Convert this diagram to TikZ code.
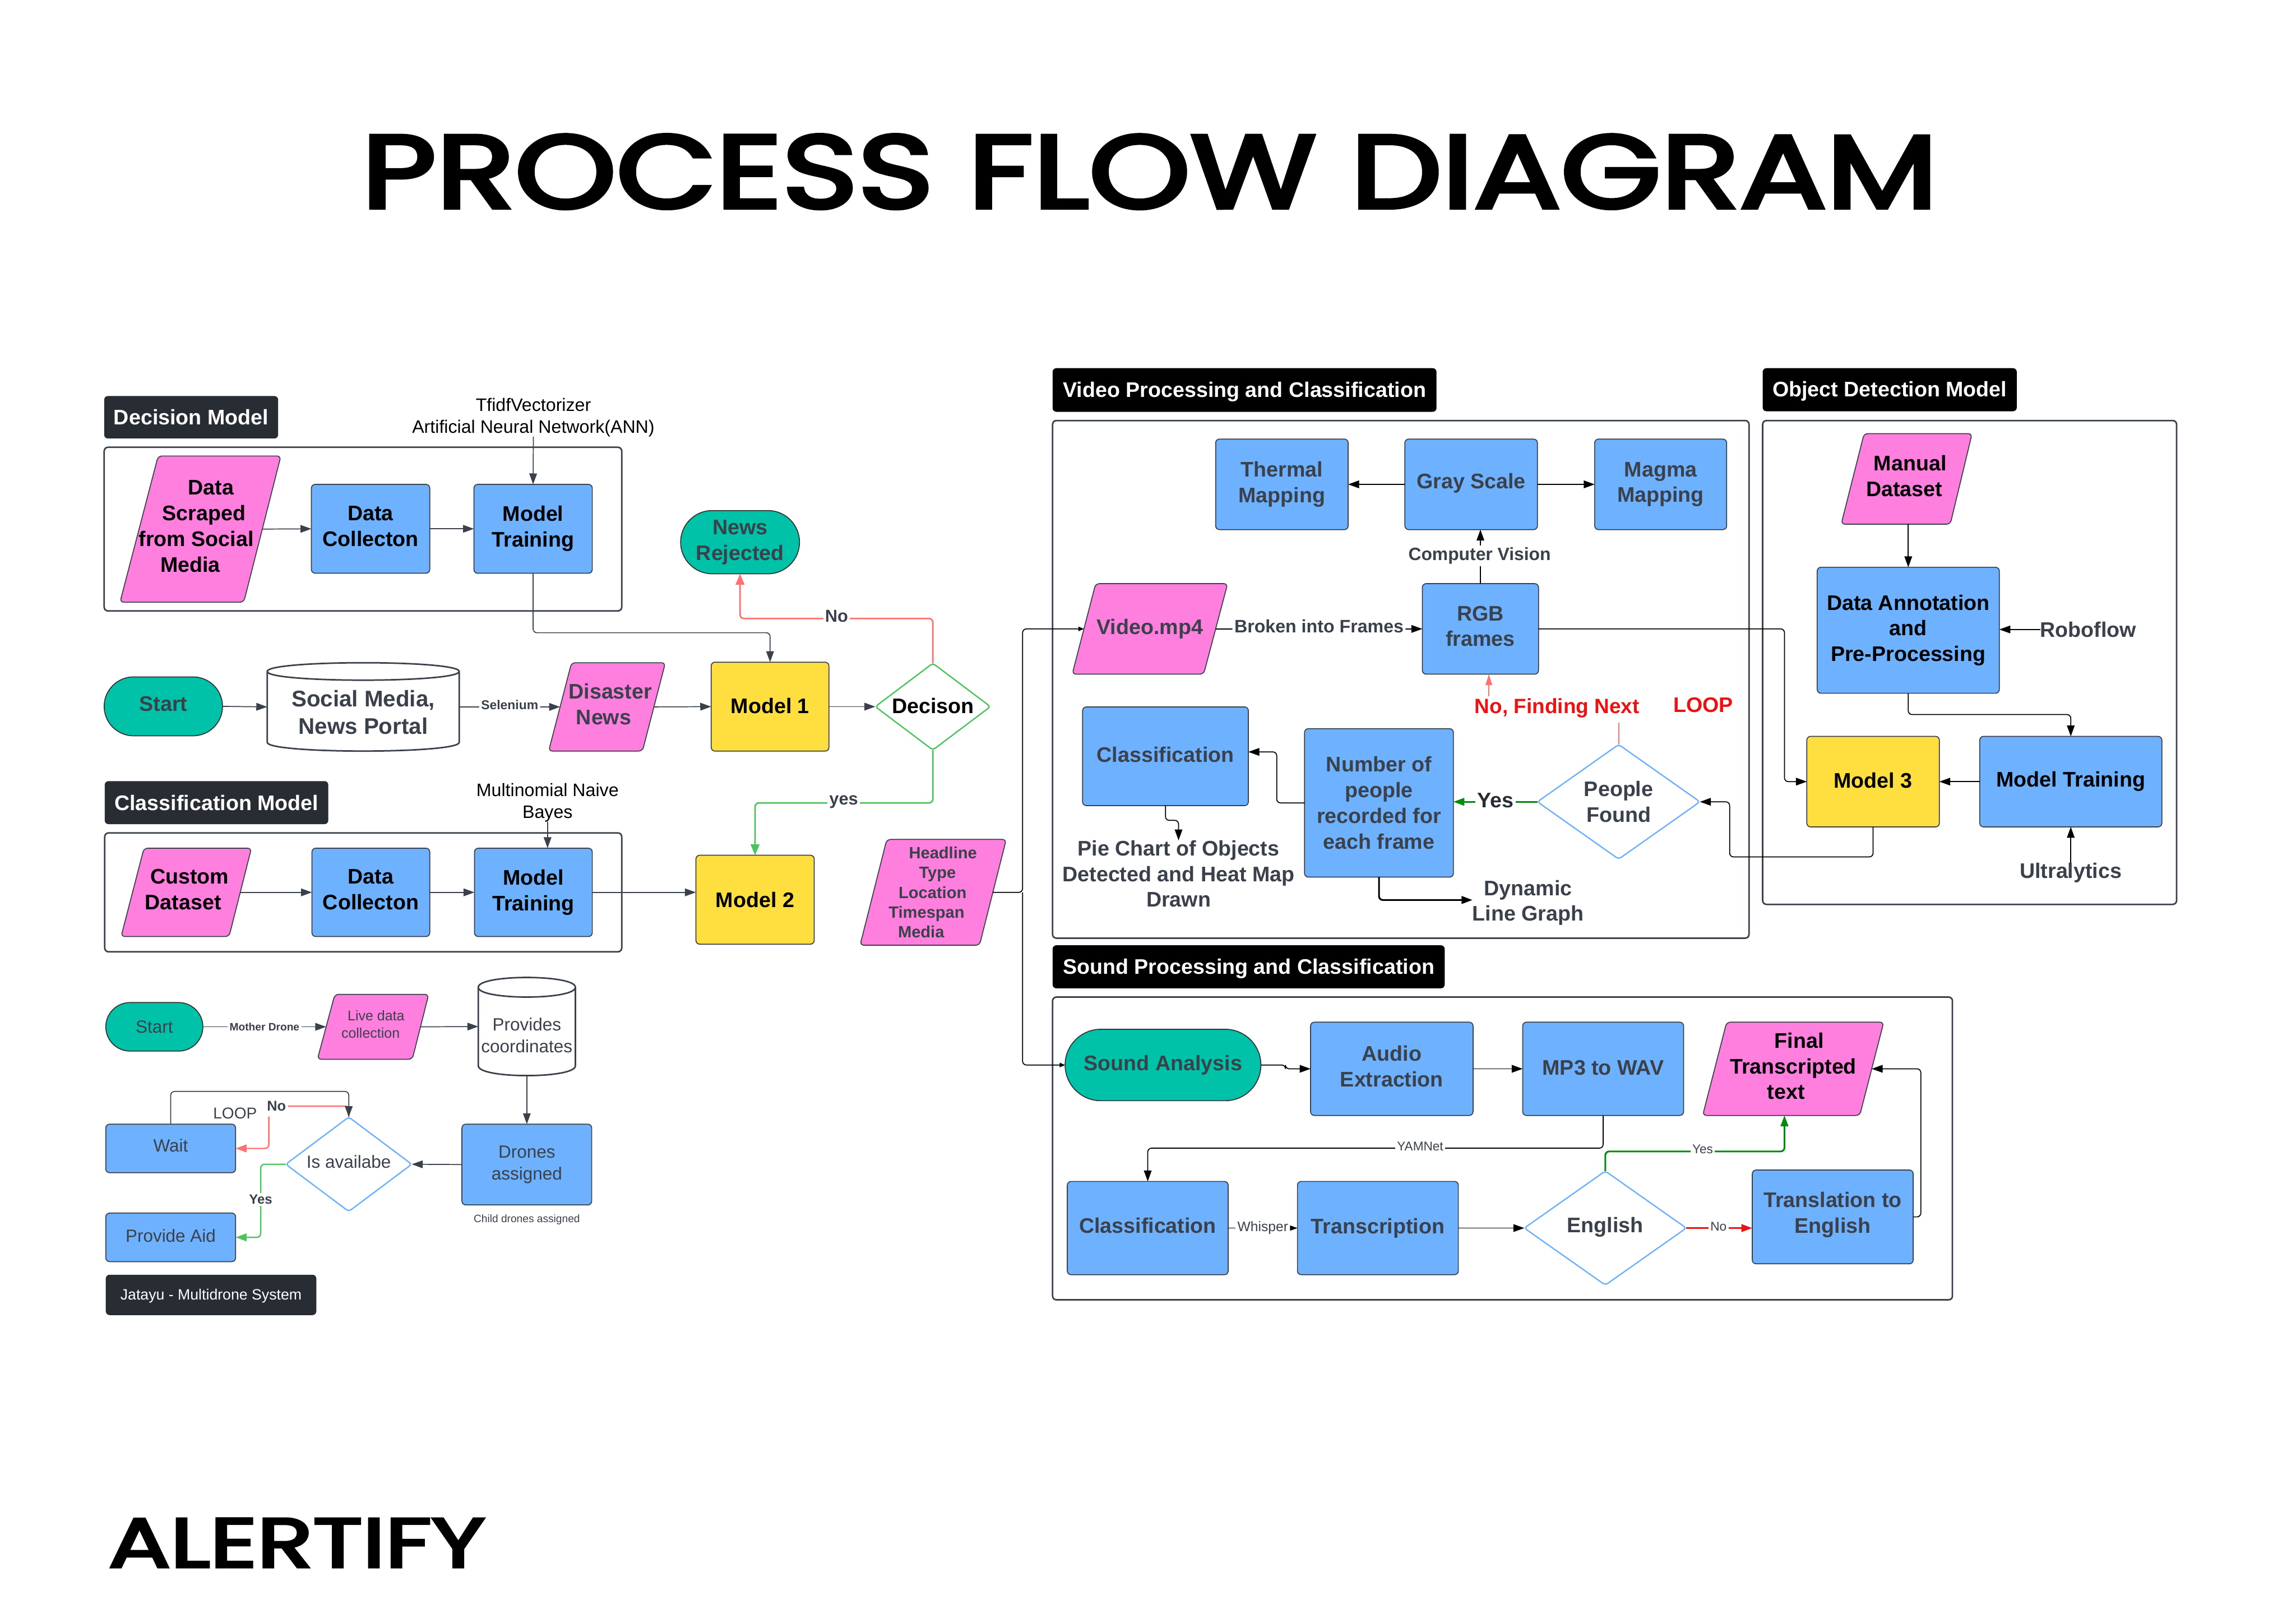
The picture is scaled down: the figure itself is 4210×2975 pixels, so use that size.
\documentclass[tikz,border=0pt]{standalone}
\usepackage{fontspec}
\usepackage{graphicx}
\setmainfont{Liberation Sans}
\newfontfamily\ttlfont[FakeBold=3.6]{Poppins}
\usetikzlibrary{arrows.meta,calc,shapes.geometric,shapes.misc}
\definecolor{inkd}{HTML}{3A414A}
\definecolor{labd}{HTML}{282C33}
\definecolor{blu}{HTML}{6DB1FF}
\definecolor{pnk}{HTML}{FF7FDF}
\definecolor{tel}{HTML}{00C2A8}
\definecolor{ylw}{HTML}{FFDF3F}
\definecolor{grn}{HTML}{4CC35B}
\definecolor{rdl}{HTML}{FF7070}
\definecolor{dgrn}{HTML}{008A0E}
\definecolor{brd}{HTML}{EE1111}
\newcommand\fsz[2]{\fontsize{#1}{#2}\selectfont}
\newcommand\upx{\rule[-2.9pt]{0pt}{0pt}}
\newcommand\bxn[7][]{\node[#1,minimum width={(#5-#3)*0.01cm},minimum height={(#6-#4)*0.01cm}] (#2) at ({(#3+#5)/2},{(#4+#6)/2}) {#7};}
% parallelogram: name, TLx, TRx, BRx, BLx, top, bottom, text
\newcommand\para[9][]{%
  \draw[inkd,line width=0.5pt,fill=pnk,rounded corners=0.07cm] (#3,#7) -- (#4,#7) -- (#5,#8) -- (#6,#8) -- cycle;
  \node[txt,text=black,#1,minimum width={((#4+#5-#3-#6)/2)*0.01cm},minimum height={(#8-#7)*0.01cm}] (#2) at ({(#3+#4+#5+#6)/4},{(#7+#8)/2}) {#9};}
% cylinder: name x0 y0 x1 y1 ry text
\newcommand\cyl[8][]{%
  \draw[inkd,line width=0.8pt,fill=white] (#3,{#4+#7}) -- (#3,{#6-#7}) .. controls (#3,{#6+0.33*#7}) and (#5,{#6+0.33*#7}) .. (#5,{#6-#7}) -- (#5,{#4+#7}) .. controls (#5,{#4-0.33*#7}) and (#3,{#4-0.33*#7}) .. (#3,{#4+#7}) .. controls (#3,{#4+2.33*#7}) and (#5,{#4+2.33*#7}) .. (#5,{#4+#7});
  \node[txt,#1,minimum width={(#5-#3)*0.01cm},minimum height={(#6-#4)*0.01cm}] (#2) at ({(#3+#5)/2},{(#4+#6)/2}) {#8};}
\newcommand\rsh[2]{\mbox{\hspace*{#1cm}#2}}
\newcommand\lsh[2]{\mbox{#2\hspace*{#1cm}}}
\tikzset{
  txt/.style={inner sep=0pt,outer sep=0pt,align=center,font=\fsz{11}{13.4}\bfseries},
  bluebox/.style={txt,draw=inkd,line width=0.5pt,fill=blu,rounded corners=0.07cm,text=inkd},
  blkbox/.style={bluebox,text=black},
  ylwbox/.style={txt,draw=inkd,line width=0.5pt,fill=ylw,rounded corners=0.07cm,text=black},
  termbox/.style={txt,draw=black!80,line width=0.5pt,fill=tel,rounded rectangle,text=inkd},
  hdrd/.style={txt,fill=labd,rounded corners=0.07cm,text=white},
  hdrk/.style={txt,fill=black,rounded corners=0.07cm,text=white},
  frame/.style={draw=inkd,line width=0.8pt,rounded corners=0.07cm},
  dia/.style={txt,shape=diamond,draw=blu,line width=0.7pt,fill=white,rounded corners=0.05cm,text=inkd},
  lab/.style={txt,text=inkd,fill=white,inner sep=1pt},
  plain/.style={txt,text=inkd},
  arr/.style={draw=inkd,line width=0.5pt,rounded corners=0.07cm,-{Triangle[length=0.2cm,width=0.14cm]}},
  arrk/.style={draw=black,line width=0.5pt,rounded corners=0.07cm,-{Triangle[length=0.2cm,width=0.14cm]}},
}
\begin{document}
\begin{tikzpicture}[x=0.01cm,y=-0.01cm]
\useasboundingbox (0,0) rectangle (4210,2975);
\fill[white] (0,0) rectangle (4210,2975);
% titles
\node[inner sep=0pt,outer sep=0pt,anchor=north west] (title) at (663,247) {\resizebox{28.87cm}{1.34cm}{\ttlfont PROCESS FLOW DIAGRAM}};
\node[inner sep=0pt,outer sep=0pt,anchor=north west] (brand) at (199,2784) {\resizebox{6.9cm}{0.89cm}{\ttlfont ALERTIFY}};
% frames
\bxn[frame]{fdec}{191}{820}{1140}{1120}{}
\bxn[frame]{fcls}{192}{1527}{1140}{1745}{}
\bxn[frame]{fvid}{1930}{771}{3207}{1720}{}
\bxn[frame]{fobj}{3232}{771}{3991}{1658}{}
\bxn[frame]{fsnd}{1930}{1828}{3580}{2383}{}
% headers
\bxn[hdrd]{hdec}{191}{726}{510}{804}{Decision Model}
\bxn[hdrd]{hcls}{192}{1432}{602}{1511}{Classification Model}
\bxn[hdrk]{hvid}{1930}{675}{2634}{755}{\rule{0pt}{9.7pt}Video Processing and Classification}
\bxn[hdrk]{hobj}{3232}{675}{3698}{754}{\rule{0pt}{9.7pt}Object Detection Model}
\bxn[hdrk]{hsnd}{1930}{1733}{2649}{1812}{\rule{0pt}{9.7pt}Sound Processing and Classification}
\bxn[hdrd,font=\fsz{7.8}{9.5}\bfseries\mdseries]{hjat}{194}{2337}{580}{2411}{\rule{0pt}{7pt}Jatayu - Multidrone System}
% decision model
\para{ds}{290}{515}{447}{220}{836}{1104}{\rsh{.38}{Data}\\\rsh{.12}{Scraped}\\\lsh{.16}{from Social}\\\lsh{.38}{Media\upx}}
\bxn[blkbox]{dc1}{571}{888}{788}{1051}{Data\\Collecton\upx}
\bxn[blkbox]{mt1}{869}{888}{1086}{1051}{Model\\Training}
\node[plain,font=\fsz{9.4}{11.4}\mdseries,text=black] (tf) at (978,765) {TfidfVectorizer\\Artificial Neural Network(ANN)};
% news row
\bxn[termbox]{st1}{191}{1241}{408}{1349}{Start\upx}
\cyl[text=inkd,font=\fsz{11.8}{14.5}\bfseries]{sm}{490}{1215}{842}{1377}{16}{\rule{0pt}{14.2pt}Social Media,\\News Portal}
\para[text=inkd]{dn}{1048}{1220}{1178}{1006}{1215}{1377}{\rsh{.12}{Disaster}\\\lsh{.12}{News\upx}}
\bxn[ylwbox]{m1}{1304}{1214}{1520}{1377}{\rule{0pt}{0pt}Model 1\rule[-1.2pt]{0pt}{0pt}}
\bxn[dia,draw=grn,aspect=1.33,text=black]{dec}{1605}{1216}{1816}{1375}{Decison\rule[-1.2pt]{0pt}{0pt}}
\bxn[termbox]{nr}{1248}{936}{1466}{1052}{News\\Rejected}
% classification model
\para{cd}{264}{461}{420}{222}{1555}{1717}{\rsh{.12}{Custom}\\\lsh{.12}{Dataset\upx}}
\bxn[blkbox]{dc2}{572}{1555}{788}{1717}{Data\\Collecton\upx}
\bxn[blkbox]{mt2}{870}{1555}{1086}{1717}{Model\\Training}
\node[plain,font=\fsz{9.4}{11.4}\mdseries,text=black] (mn) at (1004,1471) {Multinomial Naive\\Bayes};
\bxn[ylwbox]{m2}{1276}{1568}{1493}{1731}{Model 2}
\para[text=inkd,font=\fsz{8.5}{10.3}\bfseries]{hl}{1626}{1845}{1796}{1577}{1539}{1733}{\rsh{.36}{Headline}\\\rsh{.16}{Type}\\\lsh{.02}{Location}\\\lsh{.24}{Timespan}\\\lsh{.44}{Media}}
% drones
\bxn[termbox,font=\fsz{9.2}{11.3}\mdseries]{st2}{194}{1838}{372}{1927}{Start}
\para[text=inkd,font=\fsz{7.3}{9}\mdseries]{ld}{614}{786}{756}{582}{1823}{1942}{\rsh{.1}{Live data}\\\lsh{.1}{collection\upx}}
\cyl[text=inkd,font=\fsz{9.2}{11.3}\mdseries]{pc}{877}{1792}{1055}{1972}{18}{\rule{0pt}{15.8pt}Provides\\coordinates}
\bxn[bluebox,font=\fsz{9.2}{11.3}\mdseries]{dra}{847}{2061}{1085}{2209}{Drones\\assigned}
\bxn[dia,aspect=1.33,font=\fsz{9.2}{11.3}\mdseries]{isa}{524}{2048}{755}{2221}{Is availabe\upx}
\bxn[bluebox,font=\fsz{9.2}{11.3}\mdseries]{wt}{194}{2061}{432}{2150}{Wait\upx}
\bxn[bluebox,font=\fsz{9.2}{11.3}\mdseries]{pa}{194}{2224}{432}{2313}{Provide Aid\rule[-1.5pt]{0pt}{0pt}}
\node[plain,font=\fsz{5.6}{7}\mdseries] (cda) at (966,2236) {Child drones assigned};
\node[plain,font=\fsz{8.2}{10}\mdseries] (lp2) at (431,2041) {LOOP};
% video
\bxn[bluebox]{th}{2229}{805}{2472}{971}{Thermal\\Mapping}
\bxn[bluebox]{gs}{2576}{805}{2819}{971}{Gray Scale\rule[-3.4pt]{0pt}{0pt}}
\bxn[bluebox]{mm}{2924}{805}{3166}{971}{Magma\\Mapping}
\bxn[bluebox]{rgb}{2608}{1070}{2821}{1236}{RGB\\frames\upx}
\para[text=inkd]{vm}{2009}{2251}{2207}{1966}{1070}{1236}{Video.mp4}
\bxn[bluebox]{cl}{1985}{1296}{2289}{1477}{Classification\rule[-1.8pt]{0pt}{0pt}}
\bxn[bluebox]{num}{2392}{1336}{2665}{1608}{Number of\\people\\recorded for\\each frame}
\bxn[dia,aspect=1.42]{pf}{2819}{1365}{3117}{1575}{People\\Found}
\node[plain] (pie) at (2161,1602) {Pie Chart of Objects\\Detected and Heat Map\\Drawn};
\node[plain] (dyn) at (2802,1650) {\rule{0pt}{10.8pt}Dynamic\\Line Graph};
\node[plain,text=brd,font=\fsz{10.8}{13}\bfseries] (nf) at (2855,1298) {No, Finding Next};
\node[plain,text=brd] (lp1) at (3123,1293) {LOOP};
% object detection
\para{md}{3418}{3616}{3576}{3376}{795}{961}{\rsh{.12}{Manual}\\\lsh{.1}{Dataset\upx}}
\bxn[blkbox]{da}{3332}{1040}{3666}{1271}{Data Annotation\\and\\Pre-Processing}
\bxn[ylwbox]{m3}{3313}{1350}{3556}{1516}{Model 3\rule[-1.2pt]{0pt}{0pt}}
\bxn[blkbox]{omt}{3630}{1350}{3964}{1516}{Model Training}
\node[plain] (rf) at (3829,1154) {Roboflow};
\node[plain] (ult) at (3797,1600) {Ultralytics};
% sound
\bxn[termbox]{sa}{1953}{1887}{2312}{2018}{Sound Analysis}
\bxn[bluebox]{au}{2403}{1874}{2701}{2045}{Audio\\Extraction\upx}
\bxn[bluebox]{mp}{2792}{1874}{3087}{2045}{MP3 to WAV\rule[-1.2pt]{0pt}{0pt}}
\para{fin}{3166}{3454}{3410}{3122}{1874}{2045}{\rsh{.22}{Final}\\Transcripted\\\lsh{.26}{text\upx}}
\bxn[bluebox]{cl2}{1957}{2166}{2252}{2337}{Classification\upx}
\bxn[bluebox]{tr}{2379}{2166}{2674}{2337}{Transcription}
\bxn[dia,aspect=1.42]{eng}{2795}{2147}{3092}{2356}{English\rule[-3.4pt]{0pt}{0pt}}
\bxn[bluebox]{trl}{3213}{2145}{3508}{2317}{Translation to\\English\rule[-4.5pt]{0pt}{0pt}}
% connectors: decision
\draw[arr] (ds.east) -- (dc1.west);
\draw[arr] (dc1.east) -- (mt1.west);
\draw[arr] (tf.south) -- (mt1.north);
\draw[arr] (mt1.south) -- ++(0,109) -| (m1.north);
\draw[arr] (st1.east) -- (sm.west);
\draw[arr] (sm.east) -- (dn.west) node[lab,font=\fsz{6.7}{8}\bfseries,midway,yshift=0.04cm] (sel) {Selenium};
\draw[arr] (dn.east) -- (m1.west);
\draw[arr] (m1.east) -- (dec.west);
\draw[arr,draw=rdl,line width=0.8pt,-{Triangle[length=0.2cm,width=0.16cm,color=rdl]}] (dec.north) -- ++(0,-82) -| (nr.south);
\node[lab,font=\fsz{9}{11}\bfseries] (nol) at (1534,1130) {No};
\draw[arr,draw=grn,line width=0.8pt,-{Triangle[length=0.2cm,width=0.16cm,color=grn]}] (dec.south) -- ++(0,97) -| (m2.north);
\node[lab,font=\fsz{9}{11}\bfseries] (yesl) at (1547,1470) {yes};
% classification
\draw[arr] (cd.east) -- (dc2.west);
\draw[arr] (dc2.east) -- (mt2.west);
\draw[arr] (mn.south) -- (mn.south |- mt2.north);
\draw[arr] (mt2.east) -- (mt2.east -| m2.west);
% headline trunk
\coordinate (hj) at (hl.east -| 1875,0);
\draw[arrk,-{Triangle[length=0.1cm,width=0.08cm]}] (hl.east) -- (hj) |- (vm.west);
\draw[arrk,-{Triangle[length=0.1cm,width=0.08cm]}] (hj) |- (sa.west);
% video
\draw[arrk] (gs.west) -- (th.east);
\draw[arrk] (gs.east) -- (mm.west);
\draw[arrk] (rgb.north) -- (rgb.north |- gs.south);
\node[lab,text=inkd,font=\fsz{9.3}{11}\bfseries] (cv) at (2713,1019) {Computer Vision};
\draw[arrk] (vm.east) -- (rgb.west) node[lab,font=\fsz{9.4}{11}\bfseries,midway,yshift=0.05cm] (bf) {Broken into Frames};
\draw[arrk] (rgb.east) -- ++(451,0) |- (m3.west);
\draw[arrk] (m3.south) -- ++(0,55) -- ++(-263,0) |- (pf.east);
\draw[arrk,draw=dgrn,line width=0.8pt,-{Triangle[length=0.2cm,width=0.14cm,color=dgrn]}] (pf.west) -- (pf.west -| num.east);
\node[lab,text=labd] (yv) at (2742,1467) {Yes};
\draw[arrk] (num.west) -- ++(-51,0) |- ($(cl.east)+(0,-8)$);
\draw[arrk] (cl.south) -- ++(0,27) -| (pie.north);
\draw[arrk,line width=0.9pt] (num.south) |- (dyn.west);
\draw[draw=rdl,line width=0.5pt] (pf.north) -- ++(0,-40);
\coordinate (nfa) at (2730,1277);
\draw[arrk,draw=rdl,-{Triangle[length=0.2cm,width=0.12cm,color=rdl]}] (nfa) -- (nfa |- rgb.south);
% object
\draw[arrk] (md.south -| da.north) -- (da.north);
\draw[arrk] (rf.west) -- (rf.west -| da.east);
\draw[arrk] (da.south) -- ++(0,39) -| (omt.north);
\draw[arrk] (omt.west) -- (omt.west -| m3.east);
\draw[arrk] (ult.north) -- (omt.south);
% sound
\draw[arrk] (sa.east) -- ++(45,0) |- (au.west);
\draw[arrk] (au.east) -- (mp.west);
\draw[arrk] (mp.south) -- ++(0,60) -| (cl2.north);
\node[lab,font=\fsz{6.6}{8}\mdseries] (yam) at (2604,2102) {YAMNet};
\draw[arrk] (cl2.east) -- (tr.west) node[lab,font=\fsz{7.2}{9}\mdseries,midway] (wh) {Whisper};
\draw[arrk] (tr.east) -- (eng.west);
\draw[arrk,draw=brd,line width=0.9pt,-{Triangle[length=0.2cm,width=0.14cm,color=brd]}] (eng.east) -- (eng.east -| trl.west);
\node[lab,font=\fsz{6.6}{8}\mdseries] (nos) at (3151,2249) {No};
\draw[arrk,draw=dgrn,line width=0.9pt,-{Triangle[length=0.2cm,width=0.14cm,color=dgrn]}] (eng.north) -- ++(0,-36) -| ($(fin.south)+(-16,0)$);
\node[lab,font=\fsz{6.6}{8}\mdseries] (yss) at (3122,2107) {Yes};
\draw[arrk] (trl.east) -- ++(14,0) |- (fin.east);
% drones
\draw[arr] (st2.east) -- (ld.west) node[lab,font=\fsz{5.6}{7}\bfseries,midway] (mdr) {Mother Drone};
\draw[arr] (ld.east) -- (pc.west);
\draw[arr] (pc.south) -- (dra.north);
\draw[arr] (dra.west) -- (isa.east);
\node[lab,font=\fsz{7.4}{9}\bfseries,fill=none] (nod) at (507,2028) {No};
\draw[draw=rdl,line width=0.7pt,rounded corners=0.05cm] (isa.north) |- (nod.east);
\coordinate (nob) at (493,2047);
\draw[arr,draw=rdl,line width=0.7pt,-{Triangle[length=0.2cm,width=0.14cm,color=rdl]}] (nob) |- (wt.east);
\draw[arr] (wt.north) -- ++(0,-60) -| (isa.north);
\draw[arr,draw=grn,line width=0.7pt,-{Triangle[length=0.2cm,width=0.14cm,color=grn]}] (isa.west) -- ++(-46,0) |- (pa.east);
\node[lab,font=\fsz{7}{9}\bfseries] (yd) at (478,2199) {Yes};
\end{tikzpicture}
\end{document}
